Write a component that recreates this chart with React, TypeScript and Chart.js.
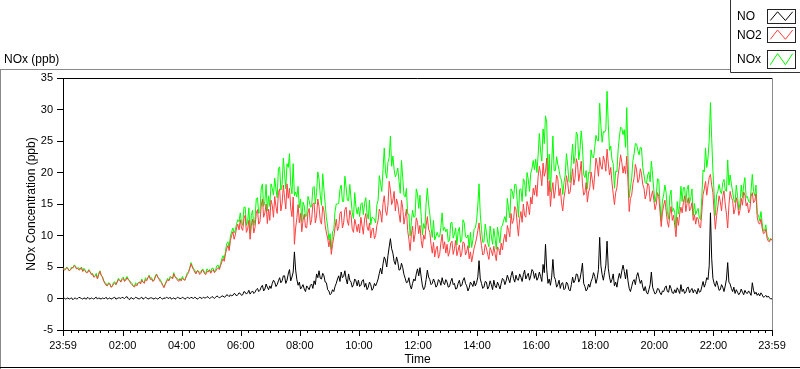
import React, { useEffect, useRef } from 'react';
import { Chart, registerables } from 'chart.js';

Chart.register(...registerables);

// Sampling step of the series, in minutes after 23:59 (start of the record)
const STEP_MIN = 2.5;

// NO2 (ppb), one value every 2.5 minutes, 24 values per hour row
const NO2 = [
  4.8, 4.5, 4.6, 4.9, 4.7, 4.4, 4.5, 4.8, 4.9, 5.2, 5.1, 4.7, 4.8, 4.5, 4.6, 4.9, 4.3, 4.6, 4.4, 4.1, 4.1, 4.5, 4.2, 3.8,
  3.9, 3.4, 3.5, 3.7, 3.1, 3.8, 4.3, 3.7, 3.4, 2.8, 2.4, 2.1, 2.0, 2.4, 2.3, 1.8, 1.9, 2.3, 2.5, 2.2, 2.6, 3.0, 2.9, 2.6,
  3.0, 3.2, 2.7, 2.9, 3.3, 3.0, 2.8, 2.4, 2.2, 2.0, 1.8, 2.2, 2.0, 2.4, 2.6, 2.3, 2.9, 2.6, 2.4, 3.0, 2.8, 3.3, 3.6, 3.0,
  3.1, 2.7, 2.9, 3.4, 3.8, 3.4, 3.1, 2.7, 2.5, 2.1, 1.7, 2.2, 2.6, 3.0, 2.8, 3.2, 3.4, 3.1, 3.9, 3.5, 3.2, 2.9, 2.7, 3.1,
  2.8, 3.2, 3.0, 2.9, 3.4, 3.8, 4.1, 4.8, 5.5, 5.0, 4.6, 4.2, 3.9, 4.4, 4.3, 3.8, 4.0, 4.5, 4.4, 3.9, 3.8, 4.3, 4.2, 4.5,
  4.0, 4.4, 4.6, 4.1, 4.3, 4.7, 4.9, 4.6, 5.2, 5.8, 6.3, 5.9, 7.1, 7.9, 8.4, 7.6, 9.2, 10.0, 10.6, 9.4, 10.1, 11.2, 11.8, 10.9,
  12.5, 11.2, 10.8, 12.7, 13.2, 10.5, 11.0, 12.4, 9.4, 11.6, 12.6, 10.4, 11.3, 13.5, 14.1, 11.8, 12.2, 14.6, 15.8, 12.9, 13.6, 15.0, 11.9, 14.2,
  12.4, 15.6, 14.8, 12.9, 16.2, 14.6, 13.5, 16.8, 17.4, 13.9, 15.1, 18.0, 16.0, 14.2, 18.2, 15.9, 17.5, 14.4, 13.0, 16.1, 8.6, 11.2, 12.8, 14.9,
  12.0, 13.5, 10.6, 12.4, 13.4, 11.3, 11.2, 13.6, 14.3, 11.7, 12.5, 15.0, 15.2, 12.0, 13.1, 15.8, 14.6, 12.4, 11.8, 14.7, 13.9, 11.6, 10.4, 9.6,
  8.2, 9.4, 7.0, 8.6, 9.8, 11.2, 12.6, 10.8, 11.4, 13.5, 13.8, 11.2, 12.0, 14.1, 14.5, 12.3, 11.6, 14.0, 13.2, 11.0, 10.5, 12.6, 11.7, 10.6,
  11.8, 10.4, 12.9, 11.5, 10.2, 12.6, 13.5, 11.4, 10.8, 12.0, 9.6, 10.9, 11.2, 9.5, 10.0, 11.6, 12.4, 14.2, 13.6, 12.1, 15.1, 16.3, 14.0, 13.2,
  14.8, 18.6, 17.2, 14.9, 15.6, 17.0, 13.9, 15.8, 15.0, 13.4, 12.1, 15.6, 14.4, 11.8, 13.0, 14.2, 10.8, 9.4, 7.6, 10.1, 11.5, 9.0, 10.2, 12.8,
  12.1, 10.3, 11.6, 9.2, 8.0, 10.1, 9.4, 11.6, 13.0, 11.0, 10.5, 8.6, 7.2, 8.9, 6.6, 7.8, 8.3, 6.4, 7.0, 8.8, 10.2, 7.9, 9.0, 7.2,
  8.6, 6.7, 7.4, 8.8, 9.1, 7.0, 7.9, 9.2, 6.8, 7.6, 8.5, 6.6, 7.2, 9.0, 8.8, 6.9, 7.5, 8.4, 6.3, 7.4, 5.8, 6.9, 8.0, 8.7,
  9.6, 10.8, 12.0, 9.9, 8.4, 6.9, 7.1, 8.6, 8.0, 7.0, 6.2, 8.1, 7.6, 6.8, 8.3, 7.1, 6.0, 8.2, 7.9, 6.9, 8.8, 7.7, 9.3, 10.2,
  9.0, 11.6, 10.8, 9.8, 13.5, 11.9, 12.4, 14.6, 14.2, 11.8, 9.9, 12.6, 13.8, 12.1, 15.0, 13.2, 12.9, 15.4, 14.6, 13.3, 16.1, 15.0, 17.5, 16.4,
  18.0, 16.2, 19.4, 21.0, 19.8, 17.9, 21.5, 19.4, 20.2, 22.3, 16.3, 18.7, 14.6, 17.0, 18.4, 15.9, 17.2, 19.6, 19.0, 16.3, 17.5, 15.2, 13.9, 16.0,
  17.2, 19.5, 18.4, 16.6, 16.9, 18.8, 20.6, 18.0, 19.1, 22.2, 21.4, 18.6, 20.0, 21.8, 18.2, 16.4, 16.8, 18.4, 15.3, 16.9, 17.6, 20.1, 18.9, 17.3,
  19.8, 22.3, 21.2, 19.4, 22.4, 21.0, 20.5, 22.6, 21.8, 20.2, 23.7, 21.5, 19.6, 20.8, 18.4, 16.6, 14.9, 16.8, 17.6, 19.6, 21.0, 22.8, 21.6, 19.9,
  21.0, 19.8, 22.6, 18.5, 13.8, 15.9, 16.4, 18.2, 19.2, 21.3, 20.4, 18.4, 18.9, 20.6, 19.8, 18.1, 17.5, 15.8, 16.6, 18.3, 18.0, 15.4, 16.2, 17.1,
  15.6, 14.1, 15.0, 16.8, 16.2, 13.8, 11.4, 13.6, 14.8, 15.6, 13.9, 12.2, 11.3, 13.4, 14.6, 12.4, 13.2, 11.6, 9.8, 12.9, 11.6, 13.4, 14.5, 13.6,
  15.2, 16.3, 13.8, 15.1, 16.0, 13.9, 14.3, 15.2, 12.4, 13.3, 11.8, 12.9, 12.6, 11.4, 11.2, 13.8, 16.5, 17.4, 18.6, 16.4, 17.9, 19.2, 19.7, 18.0,
  16.8, 13.6, 11.0, 13.2, 14.6, 16.3, 15.4, 13.9, 16.2, 17.1, 15.0, 13.4, 11.2, 14.8, 17.0, 16.0, 15.6, 13.4, 14.2, 16.0, 15.1, 13.2, 14.0, 15.9,
  14.8, 16.9, 16.4, 14.7, 15.2, 13.6, 14.1, 16.2, 16.8, 15.2, 15.5, 16.6, 12.9, 12.0, 11.8, 12.6, 11.2, 10.3, 10.4, 11.0, 9.6, 9.1, 9.0, 9.5,
  9.2,
];

// NO (ppb)
const NO = [
  0.0, 0.1, -0.1, 0.0, 0.1, -0.1, 0.0, 0.1, -0.2, 0.0, 0.1, -0.1, 0.0, 0.2, 0.1, 0.0, -0.1, 0.1, 0.0, -0.1, 0.2, 0.0, -0.1, 0.1,
  0.0, -0.1, 0.1, 0.2, -0.1, 0.1, 0.0, -0.1, 0.1, 0.0, 0.0, 0.2, -0.1, 0.0, 0.1, -0.1, 0.0, 0.1, 0.2, -0.1, 0.0, 0.1, 0.1, 0.0,
  0.2, 0.1, 0.0, 0.2, 0.3, 0.0, -0.2, 0.1, 0.1, -0.1, 0.0, 0.2, 0.1, 0.0, -0.1, 0.1, 0.2, -0.1, 0.0, 0.2, 0.1, -0.1, 0.0, 0.1,
  0.1, 0.0, -0.1, 0.1, 0.0, -0.1, 0.1, 0.2, 0.0, -0.1, 0.1, 0.0, 0.2, 0.1, 0.0, 0.2, -0.1, 0.0, 0.1, -0.1, 0.0, 0.2, 0.1, 0.0,
  0.0, 0.2, 0.1, -0.1, 0.0, 0.2, 0.1, 0.0, 0.2, 0.1, 0.0, 0.2, 0.1, -0.1, 0.0, 0.2, 0.1, 0.0, 0.2, 0.1, 0.1, 0.3, 0.2, 0.0,
  0.1, 0.3, 0.2, 0.0, 0.2, 0.4, 0.3, 0.1, 0.2, 0.4, 0.4, 0.2, 0.3, 0.6, 0.5, 0.3, 0.6, 0.4, 0.5, 0.8, 0.7, 0.4, 0.6, 0.9,
  0.8, 0.5, 0.6, 1.1, 1.0, 0.7, 0.9, 1.3, 0.7, 1.0, 1.2, 0.8, 1.0, 1.4, 1.6, 1.1, 1.3, 1.8, 2.1, 1.2, 1.5, 2.3, 1.8, 1.4,
  2.0, 1.6, 2.4, 2.9, 2.6, 1.9, 2.2, 2.8, 3.3, 2.5, 2.8, 3.6, 3.6, 2.4, 2.9, 3.9, 4.6, 2.8, 3.4, 4.2, 7.4, 4.5, 3.0, 2.1,
  2.6, 1.5, 1.8, 2.2, 1.5, 1.1, 2.0, 1.7, 1.4, 2.1, 2.3, 1.6, 2.8, 2.2, 3.9, 3.3, 4.4, 3.2, 3.1, 4.0, 3.6, 2.6, 2.5, 1.4,
  1.2, 0.6, 0.8, 1.4, 1.1, 1.9, 2.4, 3.1, 3.6, 2.7, 4.2, 3.3, 3.5, 4.4, 3.1, 2.3, 3.9, 2.9, 2.6, 1.8, 2.2, 3.1, 2.8, 2.0,
  2.9, 1.9, 2.1, 2.8, 3.0, 1.8, 2.4, 1.4, 1.8, 2.6, 2.2, 1.3, 1.6, 2.4, 2.0, 2.5, 3.1, 4.0, 4.8, 3.9, 5.5, 6.6, 6.1, 5.0,
  6.8, 8.2, 9.5, 7.9, 7.2, 5.9, 5.4, 6.6, 5.8, 4.5, 4.6, 5.6, 4.9, 3.8, 3.2, 2.5, 2.6, 3.3, 2.1, 1.5, 2.4, 3.1, 2.8, 3.9,
  4.7, 3.6, 4.9, 3.4, 2.0, 1.4, 1.8, 3.0, 4.5, 3.4, 3.0, 2.2, 2.4, 3.1, 2.6, 1.8, 2.1, 3.0, 2.8, 2.1, 3.3, 2.5, 2.2, 3.0,
  2.6, 1.8, 1.9, 2.7, 3.2, 2.2, 2.4, 1.5, 1.6, 2.4, 2.9, 1.9, 2.1, 2.9, 3.3, 2.4, 2.0, 1.2, 1.7, 2.6, 2.3, 1.9, 2.8, 2.0,
  2.5, 3.4, 6.0, 3.1, 2.4, 1.6, 1.8, 2.7, 2.6, 1.5, 1.9, 2.8, 2.2, 1.4, 2.9, 2.0, 1.7, 2.6, 2.1, 1.5, 2.4, 3.2, 3.0, 2.2,
  2.8, 3.7, 3.1, 2.5, 3.6, 4.3, 3.2, 2.6, 3.7, 3.0, 2.9, 3.9, 3.4, 2.7, 3.8, 4.5, 3.1, 3.6, 4.0, 2.9, 3.6, 4.6, 4.3, 3.2,
  4.0, 2.9, 3.3, 4.2, 3.5, 2.7, 5.4, 4.1, 8.6, 4.6, 2.4, 3.1, 2.1, 3.4, 6.2, 3.5, 3.0, 1.8, 2.2, 2.9, 1.6, 2.4, 2.5, 1.4,
  1.6, 2.6, 2.3, 1.4, 1.2, 2.2, 3.4, 2.5, 2.9, 3.9, 3.8, 2.6, 3.1, 4.2, 5.6, 2.4, 1.9, 1.2, 1.5, 2.3, 1.8, 2.7, 3.2, 4.1,
  3.5, 2.4, 3.2, 4.6, 9.7, 5.2, 3.8, 2.9, 4.1, 5.3, 9.1, 4.8, 3.4, 2.5, 3.0, 3.9, 2.0, 2.6, 1.8, 3.1, 4.0, 3.2, 4.4, 5.3,
  4.3, 3.1, 4.6, 2.8, 1.6, 1.1, 1.9, 2.7, 3.0, 2.2, 3.5, 4.1, 3.2, 2.4, 2.9, 1.8, 1.2, 1.9, 1.0, 0.7, 1.4, 2.2, 4.2, 1.8,
  1.2, 0.7, 0.9, 1.6, 1.5, 0.9, 0.6, 1.2, 1.1, 1.7, 2.0, 1.1, 1.0, 2.1, 1.6, 0.9, 0.8, 1.4, 0.9, 1.7, 1.3, 0.8, 2.2, 1.1,
  1.5, 0.8, 1.0, 1.7, 1.8, 0.9, 1.3, 1.6, 0.9, 1.4, 1.2, 0.7, 1.6, 1.0, 1.1, 1.9, 2.7, 1.8, 2.4, 3.3, 3.0, 5.2, 13.6, 6.4,
  3.2, 2.4, 1.9, 2.8, 2.1, 1.3, 1.4, 2.2, 1.8, 1.1, 2.0, 3.1, 5.7, 2.6, 2.3, 1.6, 1.1, 1.8, 0.8, 1.4, 1.0, 0.6, 0.9, 1.5,
  1.0, 0.6, 1.3, 0.9, 0.8, 1.2, 0.9, 0.5, 2.5, 1.3, 0.7, 1.0, 0.5, 0.8, 0.4, 0.9, 0.6, 0.2, 0.3, 0.5, 0.2, 0.4, 0.1, -0.1,
  0.0,
];

// NOx (ppb)
const NOX = [
  4.9, 4.7, 4.6, 5.0, 4.8, 4.4, 4.6, 5.0, 4.8, 5.3, 5.2, 4.7, 4.9, 4.8, 4.7, 5.0, 4.3, 4.8, 4.5, 4.1, 4.3, 4.6, 4.2, 4.0,
  4.0, 3.4, 3.6, 4.0, 3.1, 4.0, 4.4, 3.7, 3.5, 2.9, 2.5, 2.4, 2.0, 2.5, 2.4, 1.8, 2.0, 2.5, 2.7, 2.2, 2.7, 3.2, 3.0, 2.7,
  3.2, 3.4, 2.8, 3.2, 3.5, 3.1, 2.8, 2.6, 2.4, 2.0, 1.9, 2.5, 2.2, 2.5, 2.6, 2.5, 3.1, 2.6, 2.5, 3.3, 3.0, 3.3, 3.7, 3.2,
  3.3, 2.8, 2.9, 3.6, 3.9, 3.4, 3.2, 3.0, 2.6, 2.1, 1.9, 2.3, 2.8, 3.2, 2.9, 3.5, 3.4, 3.2, 4.1, 3.5, 3.3, 3.2, 2.9, 3.2,
  2.9, 3.5, 3.1, 2.9, 3.5, 4.1, 4.3, 4.9, 5.7, 5.2, 4.7, 4.5, 4.0, 4.4, 4.4, 4.1, 4.2, 4.6, 4.6, 4.1, 4.0, 4.7, 4.4, 4.6,
  4.2, 4.8, 4.8, 4.2, 4.6, 5.2, 5.3, 4.8, 5.5, 6.3, 6.8, 6.2, 7.5, 8.7, 9.0, 8.1, 9.9, 10.6, 11.2, 10.4, 10.9, 11.8, 12.5, 12.2,
  13.6, 12.1, 11.6, 14.5, 14.5, 11.6, 12.2, 14.4, 10.3, 13.2, 14.0, 11.6, 12.6, 15.8, 16.0, 13.5, 13.8, 17.4, 18.2, 14.6, 15.4, 18.1, 13.9, 16.3,
  14.6, 18.2, 17.5, 16.4, 19.1, 17.3, 16.0, 20.6, 20.9, 17.2, 18.1, 22.3, 19.8, 17.4, 21.4, 20.8, 23.0, 18.0, 16.6, 21.4, 16.3, 16.9, 16.1, 17.8,
  14.4, 15.8, 12.2, 15.3, 14.7, 13.0, 13.1, 16.2, 15.5, 14.5, 14.6, 17.6, 17.8, 15.0, 16.8, 20.1, 19.0, 16.4, 14.8, 19.8, 17.3, 15.0, 12.8, 11.5,
  9.3, 10.3, 7.8, 10.6, 10.9, 13.8, 15.0, 15.0, 15.1, 17.3, 18.0, 15.4, 15.4, 19.4, 17.7, 15.6, 15.5, 18.1, 15.8, 13.6, 12.7, 16.8, 14.5, 13.4,
  14.5, 13.0, 15.0, 15.2, 13.3, 15.1, 16.0, 13.5, 12.6, 15.6, 11.7, 12.9, 12.8, 12.6, 12.0, 14.9, 15.6, 19.5, 18.3, 17.0, 20.5, 23.9, 20.1, 19.1,
  21.6, 22.4, 25.8, 21.0, 22.6, 20.5, 19.3, 19.8, 20.7, 18.6, 16.7, 21.9, 19.2, 16.4, 16.1, 17.5, 13.4, 13.4, 9.9, 12.2, 14.0, 12.9, 13.0, 17.4,
  16.6, 14.3, 16.4, 13.0, 10.1, 11.9, 11.1, 15.1, 17.5, 14.9, 13.4, 11.2, 9.7, 12.4, 9.3, 9.9, 10.5, 9.8, 9.8, 11.3, 13.6, 10.8, 11.3, 10.6,
  11.0, 9.0, 9.2, 12.0, 12.1, 9.6, 10.2, 11.2, 8.5, 10.6, 11.3, 8.9, 9.4, 12.5, 12.0, 9.8, 9.6, 10.1, 8.0, 10.5, 8.1, 9.3, 11.0, 11.2,
  12.3, 14.8, 18.2, 13.4, 10.9, 8.9, 9.0, 11.8, 10.5, 8.9, 8.2, 11.5, 9.9, 8.6, 11.1, 9.6, 7.8, 11.3, 10.0, 8.8, 11.3, 11.6, 12.4, 13.0,
  12.1, 15.9, 14.2, 12.8, 17.4, 17.0, 15.8, 18.1, 18.1, 15.5, 12.9, 17.3, 17.4, 15.4, 19.0, 18.6, 16.2, 20.0, 18.9, 17.0, 19.9, 20.6, 21.9, 20.4,
  22.1, 20.0, 22.8, 26.2, 23.4, 21.8, 26.9, 24.6, 29.0, 27.9, 18.8, 22.9, 16.9, 21.4, 25.8, 20.3, 20.3, 22.5, 21.3, 20.4, 19.2, 18.8, 16.5, 18.4,
  19.6, 23.0, 21.2, 18.6, 18.4, 21.9, 24.5, 21.4, 22.6, 26.4, 26.0, 22.0, 23.6, 26.6, 24.3, 19.7, 19.2, 20.3, 17.4, 20.0, 19.9, 23.6, 22.5, 22.3,
  24.0, 25.9, 25.1, 25.0, 31.0, 27.4, 24.8, 26.5, 26.4, 26.8, 32.9, 27.6, 23.5, 24.2, 22.0, 21.4, 17.5, 20.2, 20.1, 23.6, 25.6, 27.2, 27.0, 26.0,
  26.8, 24.0, 30.3, 22.4, 16.0, 17.6, 19.1, 21.9, 23.0, 24.6, 24.5, 23.5, 22.8, 24.0, 23.9, 20.8, 19.6, 18.4, 18.2, 19.6, 20.1, 18.5, 21.8, 19.6,
  17.2, 15.3, 16.4, 19.0, 18.9, 15.1, 12.3, 15.5, 16.5, 18.0, 16.8, 13.8, 12.6, 16.3, 17.2, 13.8, 14.3, 13.6, 11.2, 15.4, 13.4, 14.7, 17.8, 15.4,
  17.6, 17.6, 15.2, 17.3, 18.0, 15.1, 16.0, 17.4, 13.2, 15.1, 13.3, 13.9, 14.3, 12.7, 12.5, 16.2, 20.4, 20.1, 23.9, 20.8, 22.3, 25.2, 31.1, 25.4,
  20.3, 16.6, 13.2, 16.5, 17.0, 18.1, 17.1, 16.6, 18.4, 18.9, 17.2, 17.0, 22.0, 18.0, 19.6, 18.2, 16.9, 15.7, 15.2, 18.0, 16.3, 14.1, 15.1, 18.0,
  16.0, 18.0, 19.2, 16.0, 16.2, 15.4, 15.2, 17.2, 19.7, 17.0, 16.3, 18.0, 13.5, 13.2, 12.3, 13.8, 12.0, 10.7, 10.8, 11.7, 9.9, 9.6, 9.2, 9.5,
  9.3,
];

const SERIES_LABELS = ['NO', 'NO2', 'NOx'];
const Y_TICKS = [-5, 0, 5, 10, 15, 20, 25, 30, 35];
// minutes after 23:59 : 23:59, 02:00, 04:00 ... 22:00, 23:59
const X_MAJOR_TICKS = [0, 121, 241, 361, 481, 601, 721, 841, 961, 1081, 1201, 1321, 1440];

const FONT = '"Liberation Sans", Arial, sans-serif';

function clockLabel(m: number): string {
  if (m === 0 || m === 1440) return '23:59';
  const t = (1439 + m) % 1440;
  const hh = Math.floor(t / 60);
  const mm = t % 60;
  return String(hh).padStart(2, '0') + ':' + String(mm).padStart(2, '0');
}

const framePlugin = {
  id: 'labviewFrame',
  beforeDraw(chart: any) {
    const ctx = chart.ctx;
    ctx.save();
    ctx.fillStyle = '#ffffff';
    ctx.fillRect(0, 0, chart.width, chart.height);
    ctx.restore();
  },
  afterDraw(chart: any) {
    const ctx = chart.ctx as CanvasRenderingContext2D;
    const a = chart.chartArea;
    const xs = chart.scales.x;
    const line = (x1: number, y1: number, x2: number, y2: number) => {
      ctx.beginPath();
      ctx.moveTo(x1, y1);
      ctx.lineTo(x2, y2);
      ctx.stroke();
    };
    ctx.save();
    ctx.lineWidth = 1;

    // outer panel frame
    ctx.strokeStyle = '#8a8a8a';
    line(0, 69.5, 730, 69.5);
    line(0.5, 69.5, 0.5, 369);
    ctx.strokeStyle = '#000';
    line(0, 367.5, 800, 367.5);

    // plot area border
    ctx.strokeStyle = '#000';
    line(a.left, a.top + 0.5, a.right, a.top + 0.5);
    ctx.strokeStyle = '#8a8a8a';
    line(a.right + 0.5, a.top, a.right + 0.5, a.bottom);

    // x ticks (major every 2 h, minor every 15 min)
    ctx.strokeStyle = '#000';
    const drawTick = (m: number, len: number) => {
      const px = Math.round(xs.getPixelForValue(m)) + 0.5;
      line(px, a.bottom, px, a.bottom + len);
    };
    for (let m = 1; m < 1440; m += 15) {
      const major = m > 1 && (m - 1) % 120 === 0;
      drawTick(m, major ? 6 : 3);
    }
    drawTick(0, 6);
    drawTick(1440, 6);

    // panel title
    ctx.fillStyle = '#000';
    ctx.font = '12px ' + FONT;
    ctx.textBaseline = 'alphabetic';
    ctx.textAlign = 'left';
    ctx.fillText('NOx (ppb)', 4, 63);

    // legend box
    ctx.fillStyle = '#fff';
    ctx.fillRect(730, 0, 70, 72);
    ctx.strokeStyle = '#333';
    line(730.5, 0, 730.5, 72.5);
    line(730.5, 72.5, 800, 72.5);
    const boxes = [
      [9, 23],
      [27, 42],
      [50, 68],
    ];
    const datasets = chart.data.datasets;
    for (let i = 0; i < datasets.length; i++) {
      const ds = datasets[i];
      const [t, b] = boxes[i];
      const mid = (t + b) / 2;
      ctx.fillStyle = '#000';
      ctx.font = '12px ' + FONT;
      ctx.textBaseline = 'middle';
      ctx.fillText(ds.label, 737, mid + 1);
      const l = 767.5;
      const r = 795.5;
      ctx.strokeStyle = '#222';
      ctx.lineWidth = 1;
      ctx.strokeRect(l, t + 0.5, r - l, b - t);
      const w = r - l;
      const h = b - t;
      ctx.strokeStyle = ds.borderColor;
      ctx.beginPath();
      ctx.moveTo(l + w * 0.1, t + h * 0.82);
      ctx.lineTo(l + w * 0.36, t + h * 0.2);
      ctx.lineTo(l + w * 0.64, t + h * 0.82);
      ctx.lineTo(l + w * 0.9, t + h * 0.2);
      ctx.stroke();
    }
    ctx.restore();
  },
};

export default function App() {
  const canvasRef = useRef<HTMLCanvasElement | null>(null);

  useEffect(() => {
    const canvas = canvasRef.current;
    if (!canvas) return;
    const toPoints = (arr: number[]) => arr.map((v, i) => ({ x: i * STEP_MIN, y: v }));
    const chart = new Chart(canvas, {
      type: 'line',
      data: {
        datasets: [
          { label: SERIES_LABELS[0], data: toPoints(NO), borderColor: '#000000', borderWidth: 1, pointRadius: 0, tension: 0 },
          { label: SERIES_LABELS[1], data: toPoints(NO2), borderColor: '#ff4040', borderWidth: 1, pointRadius: 0, tension: 0 },
          { label: SERIES_LABELS[2], data: toPoints(NOX), borderColor: '#00ff00', borderWidth: 1, pointRadius: 0, tension: 0 },
        ],
      },
      options: {
        responsive: false,
        animation: false,
        devicePixelRatio: 1,
        layout: { padding: { left: 0, right: 28, top: 78, bottom: 0 } },
        plugins: {
          legend: { display: false },
          tooltip: { enabled: false },
          title: { display: false },
        },
        scales: {
          x: {
            type: 'linear',
            min: 0,
            max: 1440,
            afterBuildTicks: (s: any) => {
              s.ticks = X_MAJOR_TICKS.map((v) => ({ value: v }));
            },
            afterFit: (s: any) => {
              s.height = 39;
            },
            ticks: {
              autoSkip: false,
              maxRotation: 0,
              minRotation: 0,
              color: '#000',
              font: { family: FONT, size: 11 },
              padding: 3,
              callback: (v: any) => clockLabel(Number(v)),
            },
            grid: { display: false, drawTicks: true, tickLength: 6 },
            border: { display: true, color: '#000', width: 1 },
            title: {
              display: true,
              text: 'Time',
              color: '#000',
              font: { family: FONT, size: 12 },
              padding: { top: 0, bottom: 2 },
            },
          },
          y: {
            type: 'linear',
            min: -5,
            max: 35,
            afterBuildTicks: (s: any) => {
              s.ticks = Y_TICKS.map((v) => ({ value: v }));
            },
            afterFit: (s: any) => {
              s.width = 63;
            },
            ticks: {
              color: '#000',
              font: { family: FONT, size: 11 },
              padding: 4,
              callback: (v: any) => String(v),
            },
            grid: {
              display: true,
              drawOnChartArea: false,
              drawTicks: true,
              tickLength: 6,
              tickColor: '#000',
              color: '#000',
            },
            border: { display: true, color: '#000', width: 1 },
            title: {
              display: true,
              text: 'NOx Concentration (ppb)',
              color: '#000',
              font: { family: FONT, size: 12 },
              padding: { top: 24, bottom: 0 },
            },
          },
        },
      },
      plugins: [framePlugin],
    } as any);
    return () => chart.destroy();
  }, []);

  return (
    <div style={{ position: 'fixed', left: 0, top: 0, width: 800, height: 369, background: '#fff' }}>
      <canvas ref={canvasRef} width={800} height={369} style={{ display: 'block', width: 800, height: 369 }} />
    </div>
  );
}
